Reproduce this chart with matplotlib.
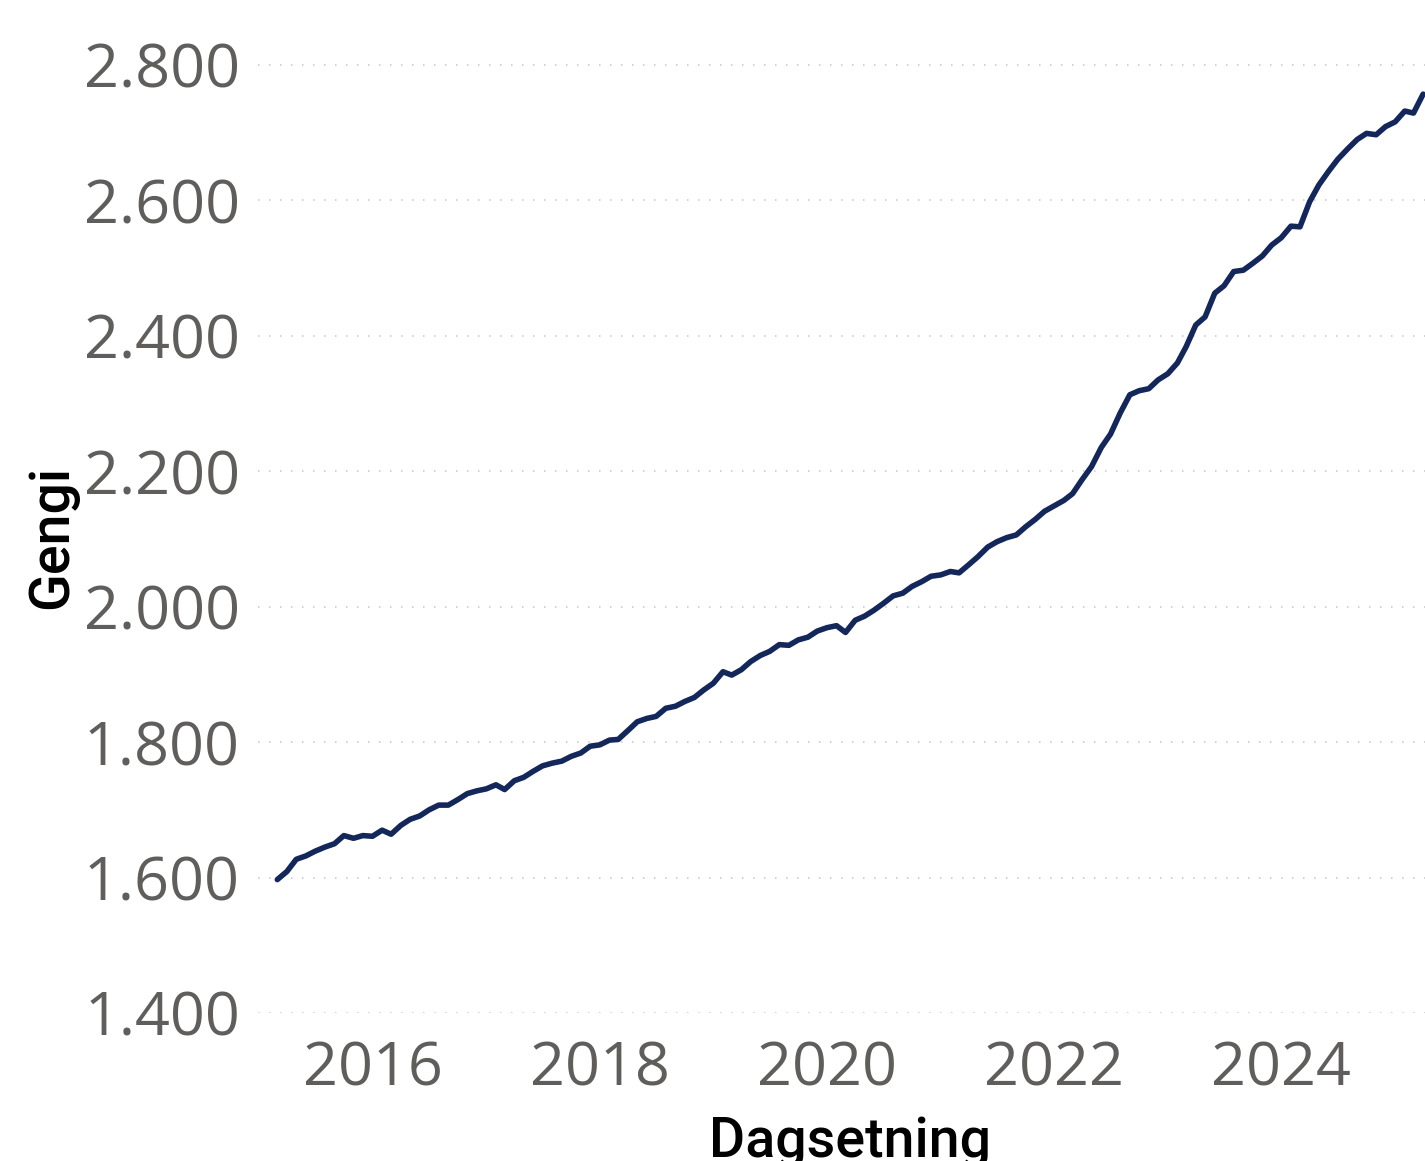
import matplotlib
matplotlib.use("Agg")
import matplotlib.pyplot as plt
import matplotlib.dates as mdates
from matplotlib.ticker import FuncFormatter
import pandas as pd

start_month = "2015-03-01"
values = [
    1597, 1609, 1627, 1632, 1639, 1645, 1650, 1662, 1658, 1662,
    1661, 1670, 1664, 1677, 1686, 1691, 1700, 1707, 1707, 1715,
    1724, 1728, 1731, 1737, 1730, 1743, 1748, 1757, 1765, 1769,
    1772, 1779, 1784, 1794, 1796, 1803, 1804, 1817, 1830, 1835,
    1838, 1850, 1853, 1860, 1866, 1877, 1887, 1904, 1899, 1907,
    1919, 1928, 1934, 1944, 1943, 1951, 1955, 1964, 1969, 1972,
    1962, 1980, 1986, 1995, 2005, 2016, 2020, 2030, 2037, 2045,
    2047, 2052, 2050, 2062, 2074, 2088, 2096, 2102, 2106, 2118,
    2129, 2141, 2149, 2157, 2167, 2188, 2207, 2235, 2255, 2286,
    2313, 2319, 2322, 2335, 2344, 2360, 2384, 2416, 2428, 2463,
    2474, 2495, 2497, 2507, 2518, 2534, 2545, 2562, 2561, 2598,
    2623, 2643, 2661, 2676, 2690, 2699, 2697, 2709, 2716, 2732,
    2729, 2757,
]
dates = pd.date_range(start_month, periods=len(values), freq="MS")
y_ticks = [1400, 1600, 1800, 2000, 2200, 2400, 2600, 2800]
x_tick_years = [2016, 2018, 2020, 2022, 2024]
x_label = "Dagsetning"
y_label = "Gengi"

fig = plt.figure(figsize=(14.25, 11.61), dpi=100)
ax = fig.add_axes([258 / 1425, 1 - 1013 / 1161, 1 - 258 / 1425, (1013 - 10) / 1161])

ax.plot(dates, values, color="#14275A", linewidth=4.0, solid_capstyle="round",
        solid_joinstyle="round", clip_on=True)

ax.set_ylim(1400, 1400 + (1013 - 10) / (948 / 1400))
ax.set_yticks(y_ticks)
ax.yaxis.set_major_formatter(FuncFormatter(lambda v, p: f"{int(v):,}".replace(",", ".")))

ax.set_xlim(pd.Timestamp("2014-12-29"), pd.Timestamp("2025-04-07"))
ax.set_xticks([pd.Timestamp(f"{y}-01-01") for y in x_tick_years])
ax.xaxis.set_major_formatter(mdates.DateFormatter("%Y"))

for s in ax.spines.values():
    s.set_visible(False)
ax.tick_params(axis="both", length=0, labelsize=44, labelcolor="#605E5C")
ax.tick_params(axis="y", pad=13)
ax.tick_params(axis="x", pad=19)
for lab in ax.get_xticklabels() + ax.get_yticklabels():
    lab.set_family("Open Sans")

ax.yaxis.grid(True, color="#C8C6C4", linestyle=(0, (1, 6.2)), linewidth=1.1)
ax.xaxis.grid(False)
ax.set_axisbelow(True)

fig.text(850 / 1425, 1 - 1141 / 1161, x_label, ha="center", va="center",
         fontsize=40, family="Roboto", fontweight="medium", color="black")
fig.text(52 / 1425, 1 - 537 / 1161, y_label, ha="center", va="center", rotation=90,
         fontsize=40, family="Roboto", fontweight="medium", color="black")

fig.savefig("out.png", dpi=100)
